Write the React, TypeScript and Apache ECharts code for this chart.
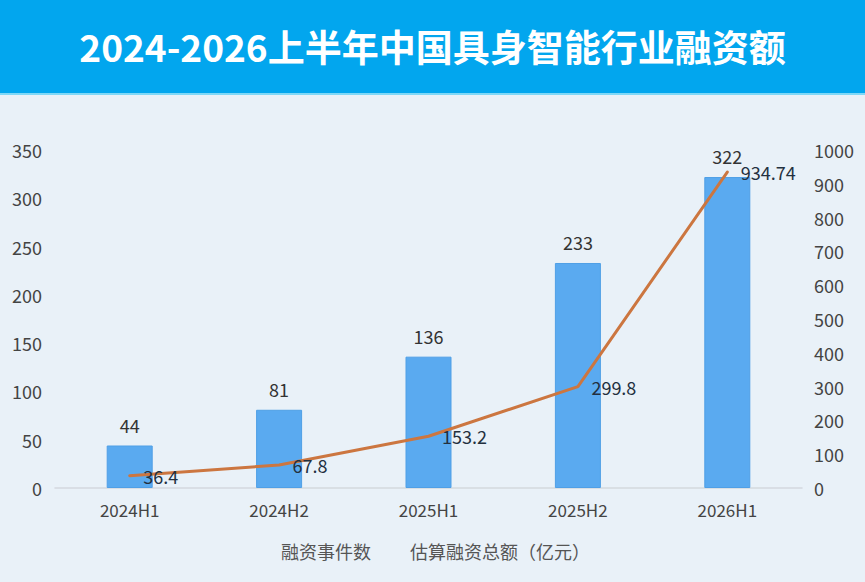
import React, { useEffect, useRef } from "react";
import * as echarts from "echarts";

const title = "2024-2026上半年中国具身智能行业融资额";
const categories = ["2024H1", "2024H2", "2025H1", "2025H2", "2026H1"];
const eventCounts = [44, 81, 136, 233, 322];
const amounts = [36.4, 67.8, 153.2, 299.8, 934.74];
const seriesNames = ["融资事件数", "估算融资总额（亿元）"];

const FONT = "'Noto Sans CJK SC', 'Noto Sans', sans-serif";

export default function App() {
  const ref = useRef<HTMLDivElement>(null);
  useEffect(() => {
    if (!ref.current) return;
    const chart = echarts.init(ref.current, null, { renderer: "svg" });
    chart.setOption({
      animation: false,
      backgroundColor: "#e9f1f8",
      textStyle: { fontFamily: FONT },
      graphic: [
        {
          type: "rect",
          left: 0,
          top: 0,
          shape: { width: 865, height: 94 },
          style: { fill: "#02a6ee" },
          z: 0,
        },
        {
          type: "rect",
          left: 0,
          top: 93,
          shape: { width: 865, height: 2 },
          style: { fill: "#7fd8f7" },
          z: 0,
        },
        {
          type: "text",
          left: "center",
          top: 27,
          style: {
            text: title,
            fill: "#ffffff",
            font: `bold 37px ${FONT}`,
          },
          z: 10,
        },
      ],
      legend: {
        bottom: 17,
        left: "center",
        itemWidth: 0,
        itemHeight: 0,
        itemGap: 34,
        icon: "rect",
        textStyle: { fontSize: 18, color: "#555", fontFamily: FONT },
        data: seriesNames,
      },
      grid: { left: 55, right: 63, top: 150, bottom: 94, containLabel: false },
      xAxis: {
        type: "category",
        data: categories,
        axisLine: { lineStyle: { color: "#d3d8de", width: 1.5 } },
        axisTick: { show: false },
        axisLabel: { fontSize: 17, color: "#444", margin: 13, fontFamily: FONT },
      },
      yAxis: [
        {
          type: "value",
          min: 0,
          max: 350,
          interval: 50,
          axisLine: { show: false },
          axisTick: { show: false },
          splitLine: { show: false },
          axisLabel: { fontSize: 18, color: "#444", margin: 13, fontFamily: FONT },
        },
        {
          type: "value",
          min: 0,
          max: 1000,
          interval: 100,
          axisLine: { show: false },
          axisTick: { show: false },
          splitLine: { show: false },
          axisLabel: {
            fontSize: 18,
            color: "#444",
            margin: 12,
            fontFamily: FONT,
            formatter: (v: number) => String(v),
          },
        },
      ],
      series: [
        {
          name: seriesNames[0],
          type: "bar",
          data: eventCounts,
          barWidth: 46,
          itemStyle: { color: "#5aaaf0", borderColor: "#4f9fe6", borderWidth: 1 },
          label: {
            show: true,
            position: "top",
            distance: 12,
            fontSize: 18,
            color: "#333",
            fontFamily: FONT,
          },
        },
        {
          name: seriesNames[1],
          type: "line",
          yAxisIndex: 1,
          data: amounts,
          smooth: false,
          showSymbol: true,
          symbol: "circle",
          symbolSize: 1,
          lineStyle: { color: "#cc7640", width: 3, cap: "round", join: "round" },
          itemStyle: { color: "rgba(0,0,0,0)" },
          label: {
            show: true,
            position: "right",
            distance: 13,
            fontSize: 18,
            color: "#23303f",
            fontFamily: FONT,
          },
          labelLayout: { hideOverlap: false },
          z: 5,
        },
      ],
    });
    return () => chart.dispose();
  }, []);
  return (
    <div
      ref={ref}
      style={{ position: "absolute", left: 0, top: 0, width: 865, height: 582 }}
    />
  );
}
